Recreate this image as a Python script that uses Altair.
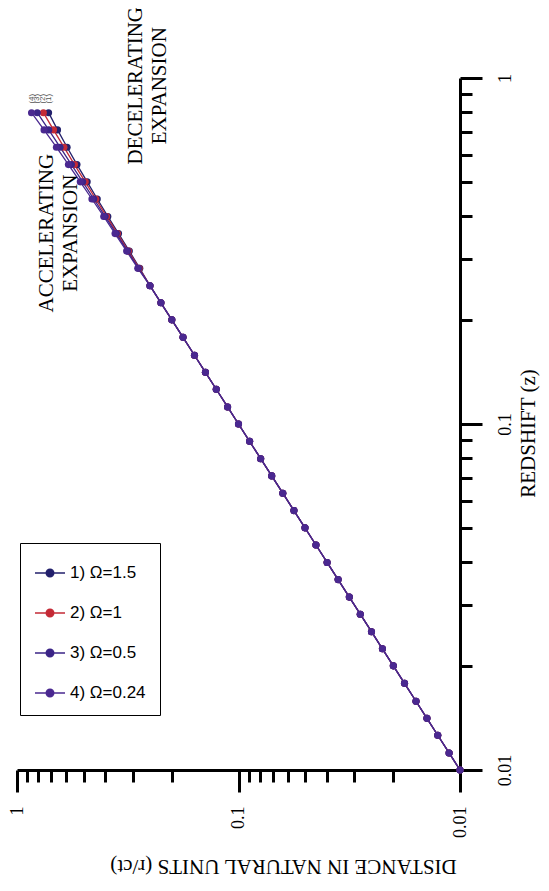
import altair as alt
import pandas as pd

# ---- data ----
redshift = [0.01, 0.0112, 0.0126, 0.0141, 0.0158, 0.0178, 0.02, 0.0224, 0.0251,
            0.0282, 0.0316, 0.0355, 0.0398, 0.0447, 0.0501, 0.0562, 0.0631,
            0.0708, 0.0794, 0.0891, 0.1, 0.112, 0.126, 0.141, 0.158, 0.178,
            0.2, 0.224, 0.251, 0.282, 0.316, 0.355, 0.398, 0.447, 0.501,
            0.562, 0.631, 0.708, 0.794]

# distances shared by all four curves (low redshift, curves coincide)
dist_low = [0.01, 0.0112, 0.0126, 0.0141, 0.0158, 0.0178, 0.02, 0.0224, 0.0251,
            0.0282, 0.0316, 0.0355, 0.0398, 0.0447, 0.0501, 0.0562, 0.0631,
            0.0708, 0.0794, 0.0891, 0.1, 0.112, 0.126, 0.141, 0.158, 0.178,
            0.2, 0.224, 0.251]

# distances where the curves separate slightly (z = 0.282 ... 0.794)
dist_high_1 = [0.279, 0.311, 0.348, 0.389, 0.434, 0.482, 0.536, 0.594, 0.656, 0.720]
dist_high_2 = [0.281, 0.314, 0.352, 0.394, 0.441, 0.492, 0.550, 0.614, 0.684, 0.760]
dist_high_3 = [0.283, 0.317, 0.356, 0.400, 0.450, 0.505, 0.568, 0.639, 0.719, 0.810]
dist_high_4 = [0.285, 0.320, 0.361, 0.406, 0.459, 0.518, 0.586, 0.664, 0.755, 0.860]

series_names = ["1) Ω=1.5", "2) Ω=1", "3) Ω=0.5", "4) Ω=0.24"]
end_tags = ["(1)", "(2)", "(3)", "(4)"]
series_colors = ["#23206c", "#c42a36", "#3b2487", "#4a2890"]

axis_ticks = [0.01, 0.02, 0.03, 0.04, 0.05, 0.06, 0.07, 0.08, 0.09,
              0.1, 0.2, 0.3, 0.4, 0.5, 0.6, 0.7, 0.8, 0.9, 1]

ann_text = ["ACCELERATING\nEXPANSION", "DECELERATING\nEXPANSION"]
ann_dist = [0.733, 0.291]
ann_z = [0.356, 0.95]

# ---- tables ----
highs = [dist_high_1, dist_high_2, dist_high_3, dist_high_4]
rows = []
for s, name in enumerate(series_names):
    dists = dist_low + highs[s]
    for z, d in zip(redshift, dists):
        rows.append({"series": name, "z": z, "d": d})
df = pd.DataFrame(rows)

ends = pd.DataFrame({"series": series_names, "tag": end_tags,
                     "z": [redshift[-1]] * 4, "d": [h[-1] for h in highs]})
ann = pd.DataFrame({"text": ann_text, "d": ann_dist, "z": ann_z})

SERIF = "Liberation Serif"
SANS = "Liberation Sans"
major = "abs(log(datum.value)/LN10 - round(log(datum.value)/LN10)) < 0.001"
tick_size = {"condition": {"test": major, "value": 22}, "value": 12}

common_axis = dict(
    values=axis_ticks, labelExpr=f"({major}) ? toString(datum.value) : ''",
    labelAngle=270, labelFont=SERIF, labelFontSize=18, labelColor="black",
    labelOverlap=False, labelFlush=False, grid=False,
    domainColor="black", domainWidth=3, tickColor="black", tickWidth=3,
    tickSize=tick_size, titleFont=SERIF, titleFontSize=21,
    titleFontWeight="normal", titleColor="black",
)

x_enc = alt.X("d:Q", scale=alt.Scale(type="log", domain=[0.01, 1], reverse=True),
              axis=alt.Axis(title="DISTANCE IN NATURAL UNITS (r/ct)", orient="bottom",
                            titleAngle=180, titleX=266, titleY=95,
                            titleAlign="center", titleBaseline="middle",
                            labelPadding=14, **common_axis))
y_enc = alt.Y("z:Q", scale=alt.Scale(type="log", domain=[0.01, 1]),
              axis=alt.Axis(title="REDSHIFT (z)", orient="right",
                            titleAngle=270, titleX=68, titleY=355,
                            titleAlign="center", titleBaseline="middle",
                            labelPadding=14, **common_axis))

legend = alt.Legend(
    title=None, orient="none", legendX=3, legendY=465, direction="vertical",
    strokeColor="black", fillColor="white", padding=14, rowPadding=16,
    labelFont=SANS, labelFontSize=17, labelColor="black", labelLimit=200,
    symbolType="M-1,0H1M0.25,0A0.25,0.25 0 1,1 -0.25,0A0.25,0.25 0 1,1 0.25,0Z",
    symbolSize=900, symbolStrokeWidth=1.5,
)
cscale = alt.Scale(domain=series_names, range=series_colors)

lines = alt.Chart(df).mark_line(strokeWidth=1.3).encode(
    x=x_enc, y=y_enc,
    stroke=alt.Stroke("series:N", scale=cscale, legend=legend),
)
points = alt.Chart(df).mark_point(filled=True, size=50, opacity=1).encode(
    x=x_enc, y=y_enc,
    fill=alt.Fill("series:N", scale=cscale, legend=legend),
)
tags = alt.Chart(ends).mark_text(angle=270, fontSize=8, font=SANS, color="#555",
                                 yOffset=-14).encode(
    x=x_enc, y=y_enc, text="tag:N")
notes = alt.Chart(ann).mark_text(angle=270, font=SERIF, fontSize=21, lineHeight=24,
                                 lineBreak="\n", align="center", baseline="middle",
                                 color="black").encode(
    x=x_enc, y=y_enc, text="text:N")

chart = alt.layer(lines, points, tags, notes).properties(
    width=443, height=692,
    autosize=alt.AutoSizeParams(type="none"),
    padding={"left": 9, "top": 70, "right": 81, "bottom": 113},
    background="white",
).configure_view(stroke=None)

chart.save("out.html", embed_options={"renderer": "svg", "actions": False})
